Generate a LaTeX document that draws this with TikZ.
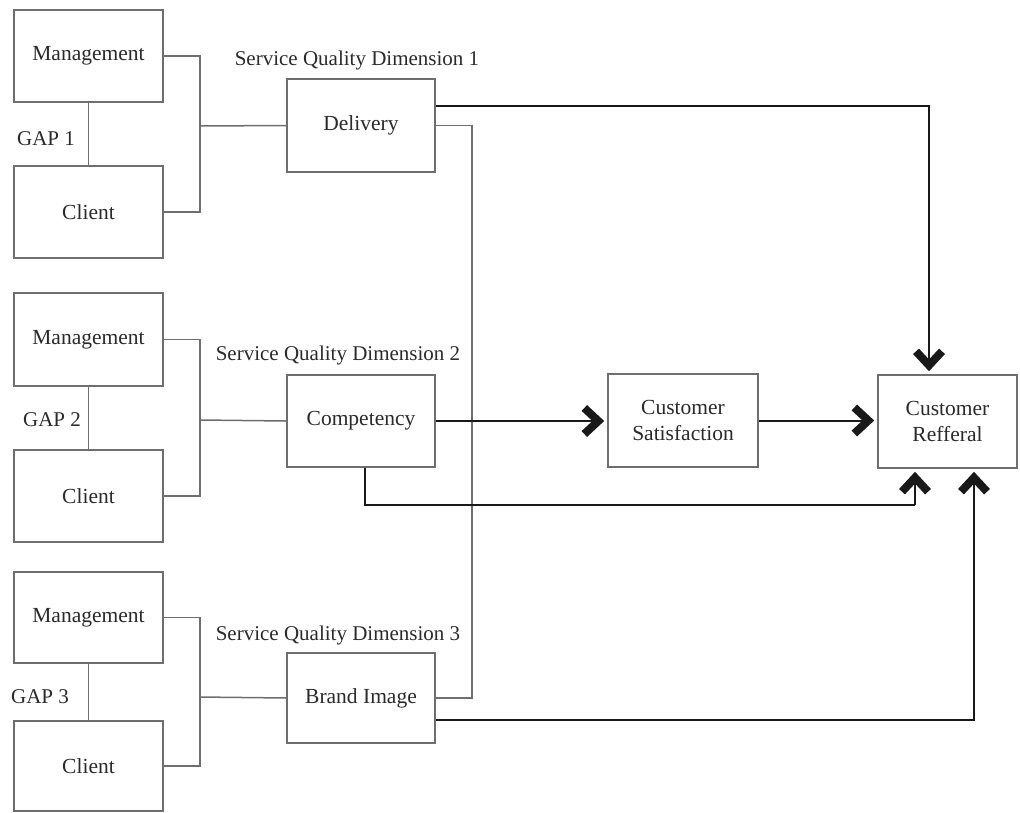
\documentclass[tikz,border=0pt]{standalone}
\usepackage{fontspec}
\setmainfont{Liberation Serif}
\usetikzlibrary{arrows.meta,calc}
\definecolor{boxgray}{HTML}{6E6E6E}
\definecolor{txt}{HTML}{2A2A2A}
\begin{document}
\begin{tikzpicture}[x=1pt,y=-1pt,
  box/.style={draw=boxgray,line width=1.6pt,fill=white,inner sep=2pt,align=center,
    text=txt,font=\fontsize{21.5}{26}\selectfont},
  lbl/.style={text=txt,font=\fontsize{21}{24}\selectfont,inner sep=0pt},
  gline/.style={draw=boxgray,line width=1.5pt},
  bline/.style={draw=black!90,line width=2pt},
  chev/.style={-{Straight Barb[length=14pt,width=26pt,line width=8pt]},shorten >=3pt}]
\useasboundingbox (0,0) rectangle (1020,812);
% group 1
\node[box,minimum width=149pt,minimum height=92pt] (m1) at (88.5,56) {Management};
\node[box,minimum width=149pt,minimum height=92pt] (c1) at (88.5,212) {Client};
% group 2
\node[box,minimum width=149pt,minimum height=93pt] (m2) at (88.5,339.5) {Management};
\node[box,minimum width=149pt,minimum height=92pt] (c2) at (88.5,496) {Client};
% group 3
\node[box,minimum width=149pt,minimum height=91pt] (m3) at (88.5,617.5) {Management};
\node[box,minimum width=149pt,minimum height=90pt] (c3) at (88.5,766) {Client};
% dimension boxes
\node[box,minimum width=148pt,minimum height=93pt] (d) at (361,125.5) {Delivery};
\node[box,minimum width=148pt,minimum height=92pt] (k) at (361,421) {Competency};
\node[box,minimum width=148pt,minimum height=90pt] (b) at (361,698) {Brand Image};
\node[box,minimum width=150pt,minimum height=93pt] (s) at (683,420.5) {Customer\\Satisfaction};
\node[box,minimum width=139pt,minimum height=93pt] (r) at (947.5,421.5) {Customer\\Refferal};
% labels
\node[lbl] (g1) at (46,139) {GAP 1};
\node[lbl] (g2) at (52,420) {GAP 2};
\node[lbl] (g3) at (40,697) {GAP 3};
\node[lbl] (t1) at (357,60) {Service Quality Dimension 1};
\node[lbl] (t2) at (338,355) {Service Quality Dimension 2};
\node[lbl] (t3) at (338,635) {Service Quality Dimension 3};
% junction coordinates
\coordinate (j1) at (200,126);
\coordinate (j2) at (200,420);
\coordinate (j3) at (200,697);
\coordinate (vx) at (472,400);
\coordinate (cb) at (915,505);
% gap lines
\draw[gline] (m1.south) -- (c1.north);
\draw[gline] (m2.south) -- (c2.north);
\draw[gline] (m3.south) -- (c3.north);
% group connectors
\draw[gline] (m1.east) -| (j1) |- (c1.east);
\draw[gline] (j1) -- (d.west);
\draw[gline] (m2.east) -| (j2) |- (c2.east);
\draw[gline] (j2) -- (k.west);
\draw[gline] (m3.east) -| (j3) |- (c3.east);
\draw[gline] (j3) -- (b.west);
% delivery - brand image link
\draw[gline] (d.east) -| (vx) |- (b.east);
% black connectors
\draw[bline,chev] ([yshift=19.5pt]d.east) -| ([xshift=-18.5pt]r.north);
\draw[bline,chev] (k.east) -- (k.east -| s.west);
\draw[bline,chev] (s.east) -- (s.east -| r.west);
\draw[bline] ([xshift=4pt]k.south) |- (cb);
\draw[bline,chev] (cb) -- (cb |- r.south);
\draw[bline,chev] ([yshift=-22pt]b.east) -| ([xshift=26.5pt]r.south);
\end{tikzpicture}
\end{document}
